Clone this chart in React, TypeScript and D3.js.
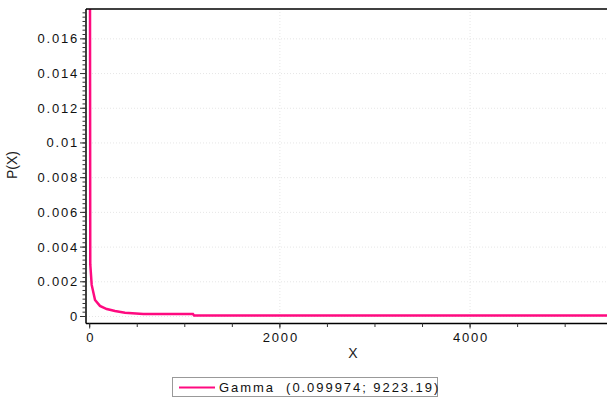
import React from 'react';
import * as d3 from 'd3';

// curve points (X, P(X))
const curveX = [1, 4, 6, 21, 56, 108, 179, 266, 371, 564, 1086, 1097, 5600];
const curveP = [0.03, 0.0134, 0.003, 0.00182, 0.00095, 0.00061, 0.00043, 0.00032, 0.00022, 0.00014, 0.00014, 0.00006, 0.00006];

const yTicks = [0, 0.002, 0.004, 0.006, 0.008, 0.01, 0.012, 0.014, 0.016];
const yTickLabels = ['0', '0.002', '0.004', '0.006', '0.008', '0.01', '0.012', '0.014', '0.016'];
const xTicks = [0, 2000, 4000];
const xTickLabels = ['0', '2000', '4000'];
const legendLabel = 'Gamma  (0.099974; 9223.19)';

const width = 607;
const height = 398;
const frame = { left: 86, top: 9, right: 620, bottom: 323.5 };
const pink = '#ff0a80';
const font = 'Arial, "Liberation Sans", sans-serif';

export default function App() {
  const xScale = d3.scaleLinear().domain([0, 5440]).range([89.7, 607]);
  const yScale = d3.scaleLinear().domain([0, 0.01772]).range([316.5, frame.top]);

  const points = curveX.map((x, i) => [x, curveP[i]] as [number, number]);
  const line = d3
    .line<[number, number]>()
    .x(d => xScale(d[0]))
    .y(d => yScale(d[1]));

  const yMinor = d3.range(0, 0.01772, 0.00025);
  const xMinor = d3.range(0, 5500, 500);

  return (
    <svg
      width={width}
      height={height}
      style={{ position: 'absolute', left: 0, top: 0, background: '#fff' }}
      fontFamily={font}
    >
      <defs>
        <clipPath id="plot">
          <rect x={frame.left} y={frame.top} width={frame.right - frame.left} height={frame.bottom - frame.top} />
        </clipPath>
      </defs>
      <rect x={0} y={0} width={width} height={height} fill="#fff" />

      {/* grid */}
      <g stroke="#e6e6e6" strokeDasharray="1,2" strokeWidth={1}>
        {yTicks.map((t, i) => (
          <line key={'gy' + i} x1={frame.left} x2={frame.right} y1={yScale(t)} y2={yScale(t)} />
        ))}
        {xTicks.slice(1).map((t, i) => (
          <line key={'gx' + i} x1={xScale(t)} x2={xScale(t)} y1={frame.top} y2={frame.bottom} />
        ))}
      </g>

      {/* curve */}
      <path
        d={line(points) || ''}
        fill="none"
        stroke={pink}
        strokeWidth={2.5}
        strokeLinejoin="miter"
        clipPath="url(#plot)"
      />

      {/* frame */}
      <g stroke="#000" strokeWidth={1.5} fill="none">
        <line x1={frame.left} x2={frame.right} y1={frame.top} y2={frame.top} />
        <line x1={frame.left} x2={frame.left} y1={frame.top} y2={frame.bottom} />
        <line x1={frame.left} x2={frame.right} y1={frame.bottom} y2={frame.bottom} />
      </g>

      {/* y axis */}
      <g stroke="#333" strokeWidth={1}>
        {yMinor.map((t, i) => (
          <line key={'ym' + i} x1={frame.left - 3.5} x2={frame.left} y1={yScale(t)} y2={yScale(t)} />
        ))}
        {yTicks.map((t, i) => (
          <line key={'yt' + i} x1={frame.left - 6} x2={frame.left} y1={yScale(t)} y2={yScale(t)} />
        ))}
      </g>
      <g fontSize={13} fill="#111" textAnchor="end" letterSpacing={1.8}>
        {yTicks.map((t, i) => (
          <text key={'yl' + i} x={79} y={yScale(t) + 4.5}>
            {yTickLabels[i]}
          </text>
        ))}
      </g>

      {/* x axis */}
      <g stroke="#333" strokeWidth={1}>
        {xMinor.map((t, i) => (
          <line key={'xm' + i} x1={xScale(t)} x2={xScale(t)} y1={frame.bottom} y2={frame.bottom + 3.5} />
        ))}
        {xTicks.map((t, i) => (
          <line key={'xt' + i} x1={xScale(t)} x2={xScale(t)} y1={frame.bottom} y2={frame.bottom + 5} />
        ))}
      </g>
      <g fontSize={13} fill="#111" textAnchor="middle" letterSpacing={1.8}>
        {xTicks.map((t, i) => (
          <text key={'xl' + i} x={xScale(t) + 1} y={341.5}>
            {xTickLabels[i]}
          </text>
        ))}
      </g>

      {/* axis titles */}
      <text x={353} y={358} fontSize={14} textAnchor="middle" fill="#222">
        X
      </text>
      <text transform="translate(17,165) rotate(-90)" fontSize={14} textAnchor="middle" fill="#222">
        P(X)
      </text>

      {/* legend */}
      <rect x={172.5} y={377.5} width={265} height={19} fill="#fff" stroke="#999" strokeWidth={1} />
      <line x1={179} x2={215} y1={387.5} y2={387.5} stroke={pink} strokeWidth={2} />
      <text x={219} y={392} fontSize={13} fill="#111" letterSpacing={1.95} style={{ whiteSpace: 'pre' }}>
        {legendLabel}
      </text>
    </svg>
  );
}
